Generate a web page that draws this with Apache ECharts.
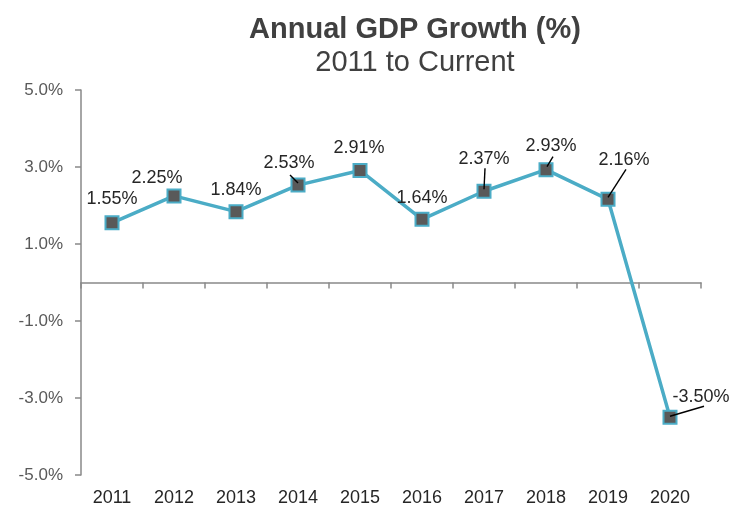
<!DOCTYPE html>
<html>
<head>
<meta charset="utf-8">
<script src="https://cdn.jsdelivr.net/npm/echarts@6/dist/echarts.min.js"></script>
<style>
html,body{margin:0;padding:0;background:#fff;}
#chart{width:732px;height:507px;}
</style>
</head>
<body>
<div id="chart"></div>
<script>
const years = ['2011','2012','2013','2014','2015','2016','2017','2018','2019','2020'];
const growth = [1.55, 2.25, 1.84, 2.53, 2.91, 1.64, 2.37, 2.93, 2.16, -3.50];
const yTicks = { min: -5, max: 5, interval: 2 };
// label offsets (styling), relative to default 'top' label position
const labelDx = [0, -17, 0, -9, -1, 0, 0, 5, 16, 31];
const labelDy = [-2, 4, 0, -1, -1, 0, -11, -2, -18, 1];
// leader-line pixel offsets relative to the data point: [startDx, startDy, endDx, endDy]
const leaders = [null, null, null, [-8, -10, 0, -2], null, null, [1, -23, 0, -2], [7, -13, 1, -3], [18, -30, 0, -2], [34, -11, 0, -1]];

const FONT = 'Liberation Sans, Arial, sans-serif';
const chart = echarts.init(document.getElementById('chart'), null, {renderer: 'canvas'});

chart.setOption({
  animation: false,
  backgroundColor: '#ffffff',
  title: {
    text: 'Annual GDP Growth (%)',
    subtext: '2011 to Current',
    left: 410,
    top: 10,
    textAlign: 'center',
    itemGap: 4,
    textStyle: { fontFamily: FONT, fontSize: 29, fontWeight: 'bold', color: '#404040' },
    subtextStyle: { fontFamily: FONT, fontSize: 29, fontWeight: 'normal', color: '#404040' }
  },
  grid: { left: 81, right: 31, top: 90, bottom: 29, containLabel: false },
  xAxis: [
    {
      type: 'category',
      data: years,
      boundaryGap: true,
      axisLine: { onZero: true, lineStyle: { color: '#898989', width: 1.5 } },
      axisTick: { show: true, length: 6, lineStyle: { color: '#898989', width: 1.5 } },
      axisLabel: { show: false },
      splitLine: { show: false }
    },
    {
      type: 'category',
      data: years,
      position: 'bottom',
      boundaryGap: true,
      axisLine: { show: false },
      axisTick: { show: false },
      axisLabel: { show: true, margin: 14, fontFamily: FONT, fontSize: 18, color: '#262626' },
      splitLine: { show: false }
    }
  ],
  yAxis: {
    type: 'value',
    min: yTicks.min,
    max: yTicks.max,
    interval: yTicks.interval,
    axisLine: { show: true, lineStyle: { color: '#898989', width: 1.5 } },
    axisTick: { show: true, length: 6, lineStyle: { color: '#898989', width: 1.5 } },
    axisLabel: {
      margin: 18,
      fontFamily: FONT, fontSize: 17, color: '#595959',
      formatter: v => v.toFixed(1) + '%'
    },
    splitLine: { show: false }
  },
  series: [{
    type: 'line',
    xAxisIndex: 0,
    data: growth,
    symbol: 'rect',
    symbolSize: 13,
    lineStyle: { color: '#4BACC6', width: 3.5 },
    itemStyle: { color: '#595959', borderColor: '#4BACC6', borderWidth: 2 },
    label: {
      show: true,
      position: 'top',
      distance: 5,
      fontFamily: FONT, fontSize: 18, color: '#262626',
      formatter: p => p.value.toFixed(2) + '%'
    },
    labelLayout: p => ({ dx: labelDx[p.dataIndex], dy: labelDy[p.dataIndex] }),
    z: 3
  }]
});

// leader lines anchored to the data points via the chart's own scales
const leaderGraphics = [];
growth.forEach((v, i) => {
  const l = leaders[i];
  if (!l) return;
  const pt = chart.convertToPixel({ xAxisIndex: 0, yAxisIndex: 0 }, [years[i], v]);
  leaderGraphics.push({
    type: 'line',
    z: 10,
    silent: true,
    shape: { x1: pt[0] + l[0], y1: pt[1] + l[1], x2: pt[0] + l[2], y2: pt[1] + l[3] },
    style: { stroke: '#000000', lineWidth: 1.4 }
  });
});
chart.setOption({ graphic: leaderGraphics });
</script>
</body>
</html>
